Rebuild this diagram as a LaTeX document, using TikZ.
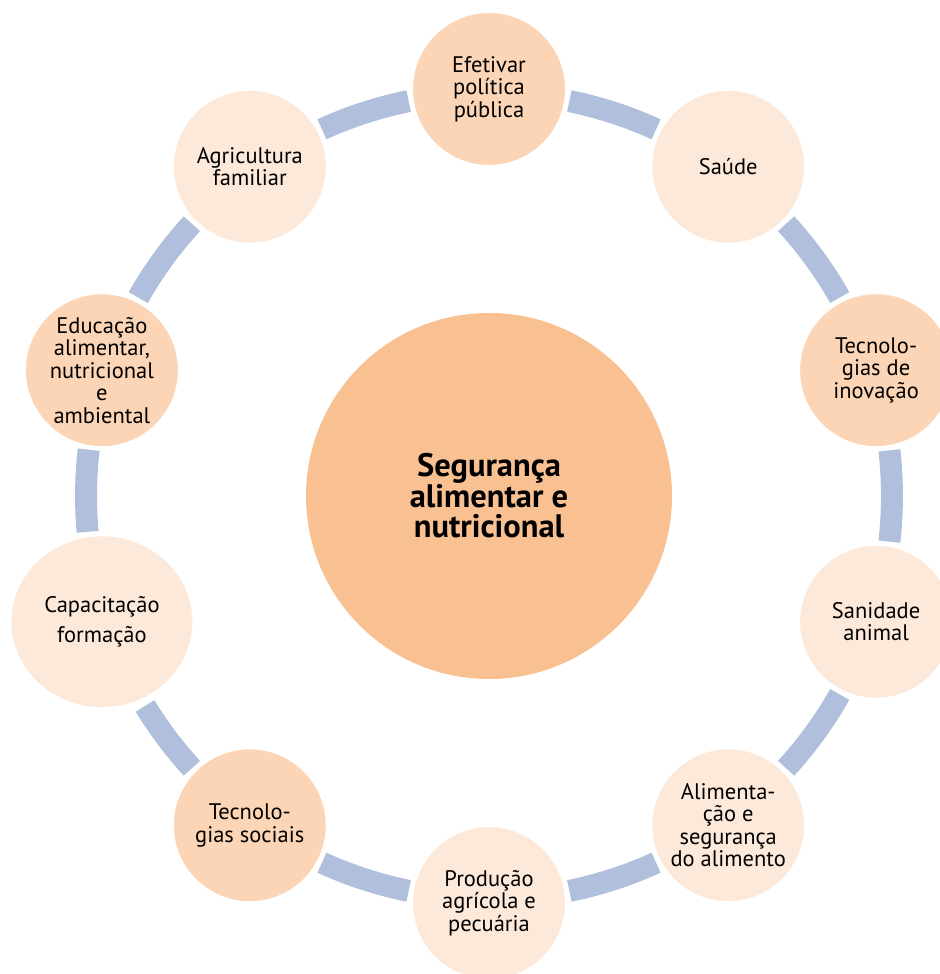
\documentclass[tikz,border=0pt]{standalone}
\usepackage{fontspec}
\setmainfont{PT Sans}
\usetikzlibrary{shapes.geometric}
\definecolor{ringblue}{HTML}{B0C0DC}
\definecolor{nodedark}{HTML}{FBD5B5}
\definecolor{nodelight}{HTML}{FDE9D9}
\definecolor{centerfill}{HTML}{F9C192}
\begin{document}
\begin{tikzpicture}[x=1bp,y=1bp,
  ringseg/.style={draw=ringblue, line width=22bp},
  outer/.style={circle, draw=white, line width=2bp, minimum size=154bp, inner sep=0pt,
    align=center, text=black, font=\fontsize{22.5bp}{22.5bp}\selectfont},
  darknode/.style={outer, fill=nodedark},
  lightnode/.style={outer, fill=nodelight},
  hub/.style={circle, fill=centerfill, minimum size=366bp, inner sep=0pt, align=center,
    text=black, font=\fontsize{32.5bp}{30.5bp}\selectfont\bfseries}]
\useasboundingbox (0,0) rectangle (940,974);
\coordinate (O) at (489,478);
% ring segments
\foreach \m in {72,36,0,-36,-72,-108,108,144}{
  \draw[ringseg] ([shift={(O)}]\m+6.5:403) arc[start angle=\m+6.5, end angle=\m-6.5, radius=403];
}
\draw[ringseg] ([shift={(O)}]173.4:403) arc[start angle=173.4, end angle=185.1, radius=403];
\draw[ringseg] ([shift={(O)}]-137.5:403) arc[start angle=-137.5, end angle=-148.6, radius=403];
% center
\node[hub] (hub) at (O) {Segurança\\alimentar e\\nutricional};
% outer nodes
\node[darknode]  (n0) at ([shift={(O)}]90:407)   {Efetivar\\política\\pública};
\node[lightnode] (n1) at ([shift={(O)}]54:407)   {Saúde};
\node[darknode]  (n2) at ([shift={(O)}]18:407)   {Tecnolo-\\gias de\\inovação};
\node[lightnode] (n3) at ([shift={(O)}]-18:407)  {Sanidade\\animal};
\node[lightnode] (n4) at ([shift={(O)}]-54:407)  {Alimenta-\\ção e\\segurança\\do alimento};
\node[lightnode] (n5) at ([shift={(O)}]-90:407)  {Produção\\agrícola e\\pecuária};
\node[darknode]  (n6) at ([shift={(O)}]-126:407) {Tecnolo-\\gias sociais};
\node[ellipse, draw=white, line width=2bp, fill=nodelight, minimum width=183bp,
  minimum height=173bp, inner sep=0pt, align=center, text=black,
  font=\fontsize{22.5bp}{30bp}\selectfont] (n7) at ([shift={(O)}]198:407) {Capacitação\\formação};
\node[darknode]  (n8) at ([shift={(O)}]162:407)  {Educação\\alimentar,\\nutricional\\e\\ambiental};
\node[lightnode] (n9) at ([shift={(O)}]126:407)  {Agricultura\\familiar};
\end{tikzpicture}
\end{document}
